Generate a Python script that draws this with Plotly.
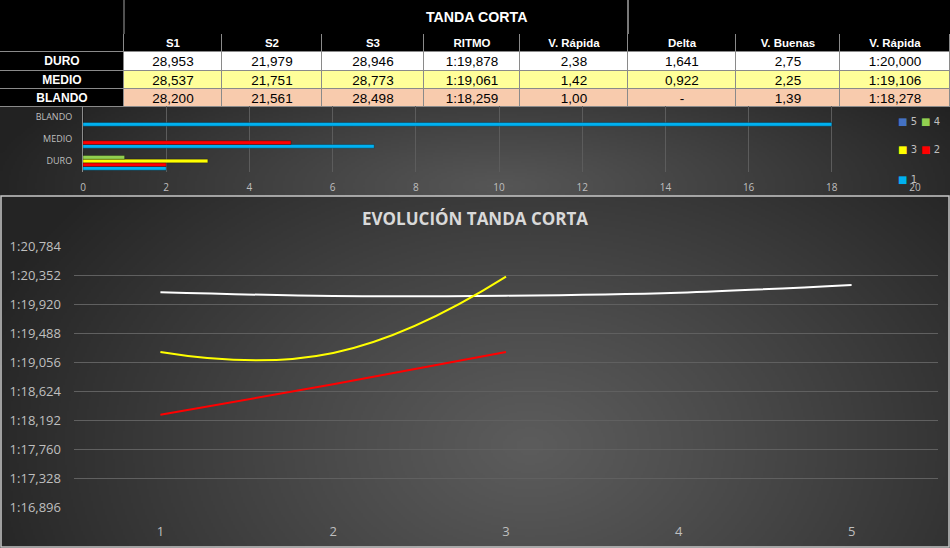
import base64
import struct
import zlib

import numpy as np
import plotly.graph_objects as go

W, H = 950, 548

# ---------------- data ----------------
TABLE_TITLE = "TANDA CORTA"
TABLE_HEADERS = ["", "S1", "S2", "S3", "RITMO", "V. Rápida", "Delta", "V. Buenas", "V. Rápida"]
COMPOUNDS = ["DURO", "MEDIO", "BLANDO"]
S1 = ["28,953", "28,537", "28,200"]
S2 = ["21,979", "21,751", "21,561"]
S3 = ["28,946", "28,773", "28,498"]
RITMO = ["1:19,878", "1:19,061", "1:18,259"]
V_RAPIDA_PCT = ["2,38", "1,42", "1,00"]
DELTA = ["1,641", "0,922", "-"]
V_BUENAS = ["2,75", "2,25", "1,39"]
V_RAPIDA = ["1:20,000", "1:19,106", "1:18,278"]

BAR_SERIES = ["1", "2", "3", "4", "5"]
BAR_1 = [2, 7, 18]
BAR_2 = [2, 5, 0]
BAR_3 = [3, 0, 0]
BAR_4 = [1, 0, 0]
BAR_5 = [0, 0, 0]
BAR_X_TICKS = [0, 2, 4, 6, 8, 10, 12, 14, 16, 18, 20]

CHART_TITLE = "EVOLUCIÓN TANDA CORTA"
LAPS_DURO = [1, 2, 3, 4, 5]
TIMES_DURO = [80.104, 80.048, 80.053, 80.098, 80.213]
LAPS_MEDIO = [1, 2, 3]
TIMES_MEDIO = [79.214, 79.199, 80.337]
LAPS_BLANDO = [1, 2, 3]
TIMES_BLANDO = [78.277, 78.731, 79.214]
X_TICKS = [1, 2, 3, 4, 5]
Y_TICK_LABELS = ["1:16,896", "1:17,328", "1:17,760", "1:18,192", "1:18,624",
                 "1:19,056", "1:19,488", "1:19,920", "1:20,352", "1:20,784"]


def to_sec(s):
    m, rest = s.split(":")
    return int(m) * 60 + float(rest.replace(",", "."))


Y_TICK_VALS = [to_sec(s) for s in Y_TICK_LABELS]

# ---------------- style / layout constants ----------------
COL_WIDTHS = [124, 98, 100, 102, 96, 108, 108, 104, 110]   # px
ROW_HEIGHTS = [18, 18.5, 18.5, 18]                          # header + 3 rows, px
TABLE_TOP = 34
TABLE_FONT = "Liberation Sans, Arial, sans-serif"
CHART_FONT = "Open Sans, Lato, sans-serif"
ROW_COLOR_CODES = [1, 2, 3]          # white, light yellow, peach
CELL_COLORSCALE = [[0, "#000000"], [1 / 3, "#FFFFFF"], [2 / 3, "#FFFF99"], [1, "#F8CBAD"]]


def px_x(p):
    return p / W


def px_y(p):
    return 1 - p / H


def radial_png(w, h, cx, cy, rx, ry, c_in, c_out, gamma=1.0):
    yy, xx = np.mgrid[0:h, 0:w]
    r = np.sqrt(((xx + 0.5 - cx) / rx) ** 2 + ((yy + 0.5 - cy) / ry) ** 2)
    t = np.clip(r, 0, 1) ** gamma
    ci = np.array(c_in, dtype=float)
    co = np.array(c_out, dtype=float)
    img = (ci[None, None, :] * (1 - t[..., None]) + co[None, None, :] * t[..., None])
    img = np.clip(img, 0, 255).astype(np.uint8)
    raw = b"".join(b"\x00" + img[i].tobytes() for i in range(h))

    def chunk(tag, data):
        c = struct.pack(">I", len(data)) + tag + data
        return c + struct.pack(">I", zlib.crc32(tag + data) & 0xFFFFFFFF)

    png = (b"\x89PNG\r\n\x1a\n"
           + chunk(b"IHDR", struct.pack(">IIBBBBB", w, h, 8, 2, 0, 0, 0))
           + chunk(b"IDAT", zlib.compress(raw, 9))
           + chunk(b"IEND", b""))
    return "data:image/png;base64," + base64.b64encode(png).decode()


bar_bg = radial_png(475, 45, 250, 40, 260, 80, (86, 86, 86), (34, 34, 34), 1.1)
line_bg = radial_png(475, 176, 265, 125, 290, 200, (92, 92, 92), (36, 36, 36), 1.1)

fig = go.Figure()

# ---------------- table (heatmap cells on a pixel-unit axis) ----------------
col_edges = list(np.concatenate([[0], np.cumsum(COL_WIDTHS)]))
row_edges = list(TABLE_TOP + np.concatenate([[0], np.cumsum(ROW_HEIGHTS)]))

# header row
fig.add_trace(go.Heatmap(
    x=col_edges, y=row_edges[0:2], z=[[0] * len(TABLE_HEADERS)],
    text=[TABLE_HEADERS], texttemplate="%{text}",
    textfont=dict(family=TABLE_FONT, size=11.5, color="white", weight="bold"),
    colorscale=CELL_COLORSCALE, zmin=0, zmax=3, showscale=False,
    xgap=1, ygap=1, hoverinfo="skip", xaxis="x3", yaxis="y3",
))
# first column (compound names)
fig.add_trace(go.Heatmap(
    x=col_edges[0:2], y=row_edges[1:], z=[[0] for _ in COMPOUNDS],
    text=[[c] for c in COMPOUNDS], texttemplate="%{text}",
    textfont=dict(family=TABLE_FONT, size=12, color="white", weight="bold"),
    colorscale=CELL_COLORSCALE, zmin=0, zmax=3, showscale=False,
    xgap=1, ygap=1, hoverinfo="skip", xaxis="x3", yaxis="y3",
))
# values
data_cols = [S1, S2, S3, RITMO, V_RAPIDA_PCT, DELTA, V_BUENAS, V_RAPIDA]
body_text = [[col[i] for col in data_cols] for i in range(len(COMPOUNDS))]
body_z = [[ROW_COLOR_CODES[i]] * len(data_cols) for i in range(len(COMPOUNDS))]
fig.add_trace(go.Heatmap(
    x=col_edges[1:], y=row_edges[1:], z=body_z,
    text=body_text, texttemplate="%{text}",
    textfont=dict(family=TABLE_FONT, size=13.5, color="black"),
    colorscale=CELL_COLORSCALE, zmin=0, zmax=3, showscale=False,
    xgap=1, ygap=1, hoverinfo="skip", xaxis="x3", yaxis="y3",
))

# ---------------- bar chart ----------------
bar_colors = {"1": "#00B0F0", "2": "#FF0000", "3": "#FFFF00", "4": "#92D050", "5": "#4472C4"}
bar_vals = {"1": BAR_1, "2": BAR_2, "3": BAR_3, "4": BAR_4, "5": BAR_5}
for s in BAR_SERIES:
    fig.add_trace(go.Bar(
        y=COMPOUNDS, x=bar_vals[s], orientation="h", name=s,
        marker=dict(color=bar_colors[s], line=dict(color="rgba(0,0,0,0.45)", width=0.6)),
        showlegend=False, xaxis="x", yaxis="y", hoverinfo="skip",
    ))

# ---------------- line chart ----------------
fig.add_trace(go.Scatter(x=LAPS_DURO, y=TIMES_DURO, mode="lines", name="DURO",
                         line=dict(color="#FFFFFF", width=2, shape="spline", smoothing=1.0),
                         xaxis="x2", yaxis="y2", showlegend=False))
fig.add_trace(go.Scatter(x=LAPS_MEDIO, y=TIMES_MEDIO, mode="lines", name="MEDIO",
                         line=dict(color="#FFFF00", width=2, shape="spline", smoothing=1.3),
                         xaxis="x2", yaxis="y2", showlegend=False))
fig.add_trace(go.Scatter(x=LAPS_BLANDO, y=TIMES_BLANDO, mode="lines", name="BLANDO",
                         line=dict(color="#FF0000", width=2, shape="spline", smoothing=1.0),
                         xaxis="x2", yaxis="y2", showlegend=False))

# ---------------- bar chart legend (text + coloured squares) ----------------
legend_pos = {"5": (896, 121), "4": (919, 121), "3": (896, 150), "2": (919, 150), "1": (896, 179)}
annotations = []
for s in BAR_SERIES:
    lx, ly = legend_pos[s]
    annotations.append(dict(
        x=px_x(lx), y=px_y(ly), xref="paper", yref="paper", xanchor="left", yanchor="middle",
        showarrow=False,
        text=f'<span style="color:{bar_colors[s]}">■</span><span style="color:#bfbfbf"> {s}</span>',
        font=dict(family="DejaVu Sans", size=10, color="#bfbfbf"),
    ))

annotations.append(dict(
    x=px_x(476), y=px_y(17), xref="paper", yref="paper", showarrow=False,
    text=f"<b>{TABLE_TITLE}</b>", font=dict(family=TABLE_FONT, size=14.2, color="white"),
    xanchor="center", yanchor="middle",
))
annotations.append(dict(
    x=px_x(475), y=px_y(218), xref="paper", yref="paper", showarrow=False,
    text=f"<b>{CHART_TITLE}</b>", font=dict(family=CHART_FONT, size=17, color="#d9d9d9"),
    xanchor="center", yanchor="middle",
))

shapes = [
    # grey background visible through the cell gaps -> cell borders
    dict(type="rect", xref="paper", yref="paper", x0=0, x1=1,
         y0=px_y(row_edges[-1]), y1=px_y(row_edges[0]),
         line=dict(width=0), fillcolor="#8a8a8a", layer="below"),
    dict(type="line", xref="paper", yref="paper", x0=px_x(124), x1=px_x(124),
         y0=px_y(0), y1=px_y(34), line=dict(color="#a0a0a0", width=1)),
    dict(type="line", xref="paper", yref="paper", x0=px_x(628), x1=px_x(628),
         y0=px_y(0), y1=px_y(34), line=dict(color="#a0a0a0", width=1.5)),
    dict(type="rect", xref="paper", yref="paper", x0=px_x(1), x1=px_x(949),
         y0=px_y(547), y1=px_y(196), line=dict(color="#c8c8c8", width=1.5),
         fillcolor="rgba(0,0,0,0)", layer="above"),
]

images = [
    dict(source=bar_bg, xref="paper", yref="paper", x=0, y=px_y(107), sizex=1,
         sizey=(196 - 107) / H, xanchor="left", yanchor="top", sizing="stretch", layer="below"),
    dict(source=line_bg, xref="paper", yref="paper", x=0, y=px_y(196), sizex=1,
         sizey=(548 - 196) / H, xanchor="left", yanchor="top", sizing="stretch", layer="below"),
]

fig.update_layout(
    width=W, height=H,
    margin=dict(l=0, r=0, t=0, b=0, pad=0, autoexpand=False),
    paper_bgcolor="black", plot_bgcolor="rgba(0,0,0,0)",
    barmode="group", bargap=0.17, bargroupgap=0,
    showlegend=False,
    font=dict(family=CHART_FONT, color="#bfbfbf"),
    xaxis=dict(domain=[px_x(83), px_x(915)], range=[0, 20], tickvals=BAR_X_TICKS,
               showgrid=True, gridcolor="#5c5c5c", gridwidth=1, zeroline=False,
               showline=False, tickfont=dict(size=10, color="#bfbfbf"),
               ticklabelstandoff=8, anchor="y", fixedrange=True),
    yaxis=dict(domain=[px_y(172), px_y(106)], categoryorder="array", categoryarray=COMPOUNDS,
               showgrid=False, zeroline=False, showline=True, linecolor="#8c8c8c", linewidth=1,
               tickfont=dict(size=9, color="#bfbfbf"), ticklabelstandoff=8, anchor="x",
               fixedrange=True),
    xaxis2=dict(domain=[px_x(74), px_x(938)], range=[0.5, 5.5], tickvals=X_TICKS,
                showgrid=False, zeroline=False, showline=False,
                tickfont=dict(size=13, color="#bfbfbf"), ticklabelstandoff=14, anchor="y2"),
    yaxis2=dict(domain=[px_y(507.5), px_y(246.5)],
                range=[Y_TICK_VALS[0] - 0.002, Y_TICK_VALS[-1] + 0.002],
                tickvals=Y_TICK_VALS, ticktext=Y_TICK_LABELS,
                showgrid=True, gridcolor="#606060", gridwidth=1, zeroline=False, showline=False,
                tickfont=dict(size=13, color="#bfbfbf"), ticklabelstandoff=12, anchor="x2"),
    xaxis3=dict(domain=[0, 1], range=[0, W], visible=False, fixedrange=True, anchor="y3"),
    yaxis3=dict(domain=[px_y(row_edges[-1]), 1], range=[row_edges[-1], 0], visible=False,
                fixedrange=True, anchor="x3"),
    annotations=annotations,
    shapes=shapes,
    images=images,
)

fig.write_html(
    "out.html",
    config={"displayModeBar": False, "staticPlot": True},
    post_script="document.body.style.margin='0';document.body.style.overflow='hidden';",
)
